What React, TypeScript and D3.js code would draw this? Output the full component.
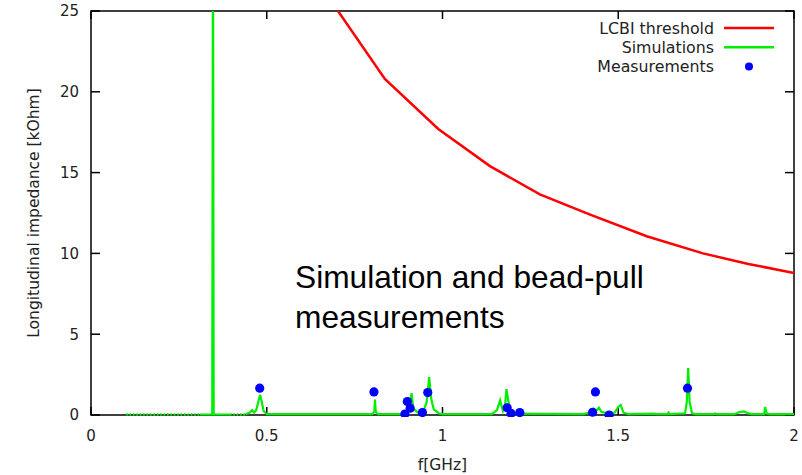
import React from "react";
import * as d3 from "d3";

const W = 802;
const H = 475;

// LCBI threshold curve
const lcbiFreq = [0.69, 0.836, 0.988, 1.135, 1.277, 1.42, 1.581, 1.741, 1.87, 2.0];
const lcbiImp = [25.4, 20.8, 17.7, 15.4, 13.65, 12.4, 11.06, 10.0, 9.35, 8.79];

// Simulation: spike segment
const simSpikeFreq = [0.31, 0.345, 0.347, 0.349, 0.395];
const simSpikeImp = [0.03, 0.03, 32, 0.03, 0.03];

// Simulation: low dotted segments (start / end)
const simDotFrom = [0.1, 0.395];
const simDotTo = [0.31, 0.44];

// Simulation: main resonance segment
const simFreq = [
  0.44, 0.452, 0.458, 0.464, 0.47, 0.476, 0.481, 0.486, 0.491, 0.5,
  0.8, 0.806, 0.808, 0.81, 0.816,
  0.88, 0.895, 0.905, 0.912, 0.917, 0.93, 0.945, 0.955, 0.962, 0.968, 0.975, 0.99, 1.0,
  1.14, 1.155, 1.164, 1.172, 1.178, 1.182, 1.187, 1.192, 1.21,
  1.4, 1.42, 1.43, 1.437, 1.445, 1.452, 1.47, 1.49, 1.5, 1.507, 1.515, 1.53,
  1.6, 1.61, 1.64, 1.643, 1.646,
  1.69, 1.695, 1.699, 1.703, 1.71, 1.72,
  1.77, 1.775, 1.78, 1.83, 1.845, 1.858, 1.87, 1.88,
  1.915, 1.918, 1.922, 1.93, 2.0,
];
const simImp = [
  0.05, 0.15, 0.3, 0.15, 0.3, 0.8, 1.25, 0.8, 0.25, 0.05,
  0.05, 0.2, 0.95, 0.2, 0.05,
  0.05, 0.15, 0.4, 1.35, 0.4, 0.15, 0.2, 0.8, 2.35, 1.0, 0.35, 0.1, 0.05,
  0.05, 0.3, 0.9, 0.25, 0.6, 1.6, 0.9, 0.25, 0.08,
  0.05, 0.15, 0.4, 0.25, 0.45, 0.2, 0.1, 0.15, 0.5, 0.62, 0.15, 0.05,
  0.08, 0.05, 0.05, 0.15, 0.05,
  0.1, 0.8, 2.9, 0.8, 0.1, 0.05,
  0.05, 0.1, 0.05, 0.05, 0.18, 0.22, 0.1, 0.05,
  0.05, 0.5, 0.1, 0.05, 0.05,
];

// Bead-pull measurements
const measFreq = [0.48, 0.805, 0.893, 0.9, 0.908, 0.943, 0.958, 1.184, 1.195, 1.22, 1.427, 1.435, 1.474, 1.697];
const measImp = [1.66, 1.43, 0.06, 0.83, 0.42, 0.15, 1.39, 0.45, 0.1, 0.15, 0.17, 1.43, 0.0, 1.66];

const xTicks = [0, 0.5, 1, 1.5, 2];
const xTickLabels = ["0", "0.5", "1", "1.5", "2"];
const yTicks = [0, 5, 10, 15, 20, 25];
const yTickLabels = ["0", "5", "10", "15", "20", "25"];

const legendLabels = ["LCBI threshold", "Simulations", "Measurements"];

const L = 91, R = 794, T = 11, B = 415;
const GREEN = "#00ee00";
const RED = "#ff0000";
const BLUE = "#0000ff";
const FONT = "'DejaVu Sans', sans-serif";

export default function App() {
  const x = d3.scaleLinear().domain([0, 2]).range([L, R]);
  const y = d3.scaleLinear().domain([0, 25]).range([B, T]);
  const line = d3
    .line<[number, number]>()
    .x((d) => x(d[0]))
    .y((d) => y(d[1]));

  const lcbi = line(lcbiFreq.map((f, i) => [f, lcbiImp[i]] as [number, number]))!;
  const spike = line(simSpikeFreq.map((f, i) => [f, simSpikeImp[i]] as [number, number]))!;
  const sim = line(simFreq.map((f, i) => [f, simImp[i]] as [number, number]))!;

  return (
    <svg
      width={W}
      height={H}
      style={{ position: "absolute", left: 0, top: 0, background: "#fff" }}
    >
      <defs>
        <clipPath id="plot">
          <rect x={L} y={T} width={R - L} height={B - T + 2} />
        </clipPath>
      </defs>
      <rect x={0} y={0} width={W} height={H} fill="#fff" />

      {/* frame */}
      <rect x={L} y={T} width={R - L} height={B - T} fill="none" stroke="#000" strokeWidth={1.5} />

      {/* ticks */}
      {yTicks.map((t, i) => (
        <g key={"y" + i}>
          <line x1={L} x2={L + 9} y1={y(t)} y2={y(t)} stroke="#000" strokeWidth={1.5} />
          <line x1={R} x2={R - 9} y1={y(t)} y2={y(t)} stroke="#000" strokeWidth={1.5} />
          <text
            x={79}
            y={y(t)}
            dy="0.36em"
            textAnchor="end"
            fontFamily={FONT}
            fontSize={15}
            fill="#222"
          >
            {yTickLabels[i]}
          </text>
        </g>
      ))}
      {xTicks.map((t, i) => (
        <g key={"x" + i}>
          <line x1={x(t)} x2={x(t)} y1={B} y2={B - 8} stroke="#000" strokeWidth={1.5} />
          <line x1={x(t)} x2={x(t)} y1={T} y2={T + 8} stroke="#000" strokeWidth={1.5} />
          <text
            x={x(t)}
            y={441}
            textAnchor="middle"
            fontFamily={FONT}
            fontSize={15}
            fill="#222"
          >
            {xTickLabels[i]}
          </text>
        </g>
      ))}

      {/* axis labels */}
      <text
        x={(L + R) / 2}
        y={470}
        textAnchor="middle"
        fontFamily={FONT}
        fontSize={15.5}
        fill="#222"
      >
        f[GHz]
      </text>
      <text
        transform={`translate(39, ${(T + B) / 2}) rotate(-90)`}
        textAnchor="middle"
        fontFamily={FONT}
        fontSize={15.5}
        fill="#222"
      >
        Longitudinal impedance [kOhm]
      </text>

      {/* data */}
      <g clipPath="url(#plot)">
        <path d={lcbi} fill="none" stroke={RED} strokeWidth={2.5} />
        {simDotFrom.map((f, i) => (
          <line
            key={"d" + i}
            x1={x(f)}
            x2={x(simDotTo[i])}
            y1={y(0.03)}
            y2={y(0.03)}
            stroke={GREEN}
            strokeWidth={2.5}
            strokeDasharray="1.6,1.8"
          />
        ))}
        <path d={spike} fill="none" stroke={GREEN} strokeWidth={2.2} />
        <path d={sim} fill="none" stroke={GREEN} strokeWidth={2.2} />
        {measFreq.map((f, i) => (
          <circle key={"m" + i} cx={x(f)} cy={y(measImp[i])} r={4.6} fill={BLUE} />
        ))}
      </g>

      {/* annotation */}
      <text x={295} y={288} fontFamily="'Liberation Sans', Arial, sans-serif" fontSize={31.7} fill="#000">
        Simulation and bead-pull
      </text>
      <text x={295} y={328} fontFamily="'Liberation Sans', Arial, sans-serif" fontSize={31.7} fill="#000">
        measurements
      </text>

      {/* legend */}
      {legendLabels.map((lab, i) => {
        const cy = 28 + i * 19.3;
        return (
          <g key={"l" + i}>
            <text
              x={714}
              y={cy}
              dy="0.36em"
              textAnchor="end"
              fontFamily={FONT}
              fontSize={15.8}
              fill="#222"
            >
              {lab}
            </text>
            {i < 2 ? (
              <line x1={724} x2={774} y1={cy} y2={cy} stroke={i === 0 ? RED : GREEN} strokeWidth={2.5} />
            ) : (
              <circle cx={749} cy={cy} r={4} fill={BLUE} />
            )}
          </g>
        );
      })}
    </svg>
  );
}
